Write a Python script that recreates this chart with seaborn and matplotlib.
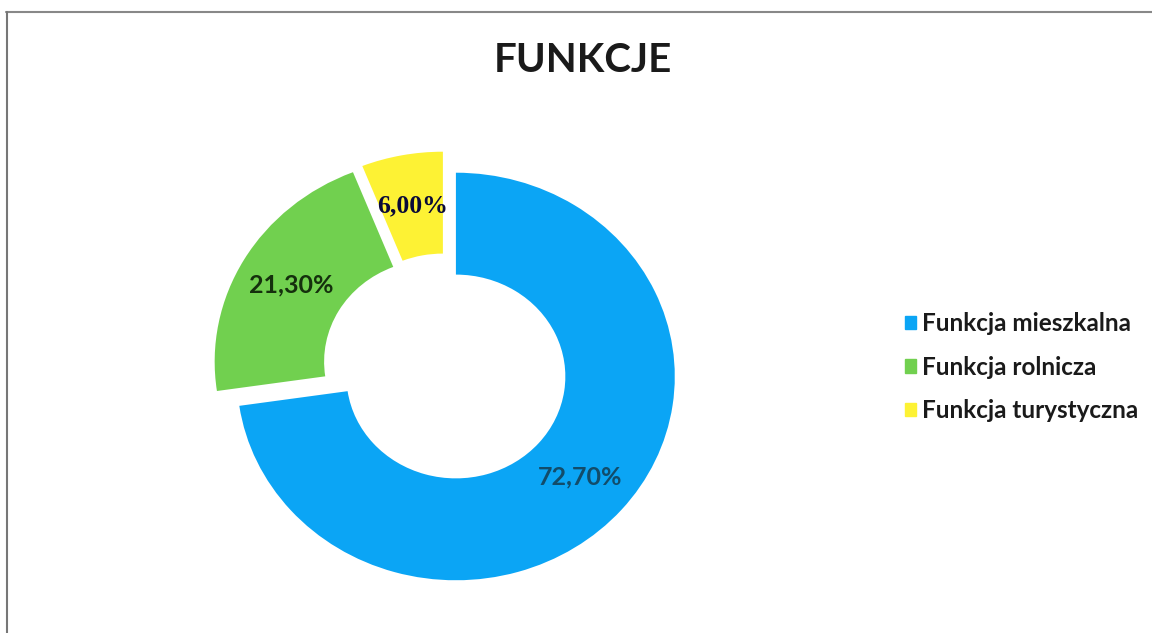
import matplotlib
matplotlib.use("Agg")
import matplotlib.pyplot as plt
from matplotlib.lines import Line2D
import seaborn as sns

sns.set_theme(style="white")
plt.rcParams['font.family'] = ['Lato', 'DejaVu Sans']

categories = ["Funkcja mieszkalna", "Funkcja rolnicza", "Funkcja turystyczna"]
shares = [72.7, 21.3, 6.0]
colors = ["#0BA5F5", "#71D04F", "#FDF234"]
label_colors = ["#124C6A", "#15300D", "#0A0A38"]

fig = plt.figure(figsize=(11.52, 6.33), dpi=100)
fig.patch.set_facecolor("white")

# pie axes, centred on the donut (scan is slightly stretched horizontally)
ax = fig.add_axes([0.1397, 0.0, 0.494, 0.837])
wedges, texts, autotexts = ax.pie(
    shares,
    colors=colors,
    startangle=90,
    counterclock=False,
    explode=[0.063] * len(shares),
    radius=1.0,
    wedgeprops=dict(width=0.5, edgecolor="none"),
    autopct=lambda p: f"{p:.2f}%".replace(".", ","),
    pctdistance=0.75,
)
for t, c in zip(autotexts, label_colors):
    t.set_color(c)
    t.set_fontsize(18)
    t.set_fontweight("bold")
autotexts[2].set_family(["Liberation Serif", "DejaVu Serif"])
autotexts[2].set_fontsize(18.5)
ax.set_xlim(-1.3, 1.3)
ax.set_ylim(-1.3, 1.3)
ax.set_aspect("auto")
ax.axis("off")

fig.text(0.506, 0.905, "FUNKCJE", ha="center", va="center",
         fontsize=29, fontweight="bold", color="#1a1a1a")

handles = [plt.Rectangle((0, 0), 1, 1, color=c) for c in colors]
leg = fig.legend(handles, categories, loc="center left", bbox_to_anchor=(0.767, 0.42),
                 frameon=False, fontsize=17.5, handlelength=0.45, handleheight=0.45,
                 handletextpad=0.25, labelspacing=0.85)
for t in leg.get_texts():
    t.set_fontweight("bold")
    t.set_color("#1a1a1a")

# scanned frame edges
fig.add_artist(Line2D([0.005, 1.0], [0.981, 0.981], color="#888888", lw=1.5))
fig.add_artist(Line2D([0.006, 0.006], [0.0, 0.981], color="#777777", lw=1.5))

fig.savefig("out.png", dpi=100)
